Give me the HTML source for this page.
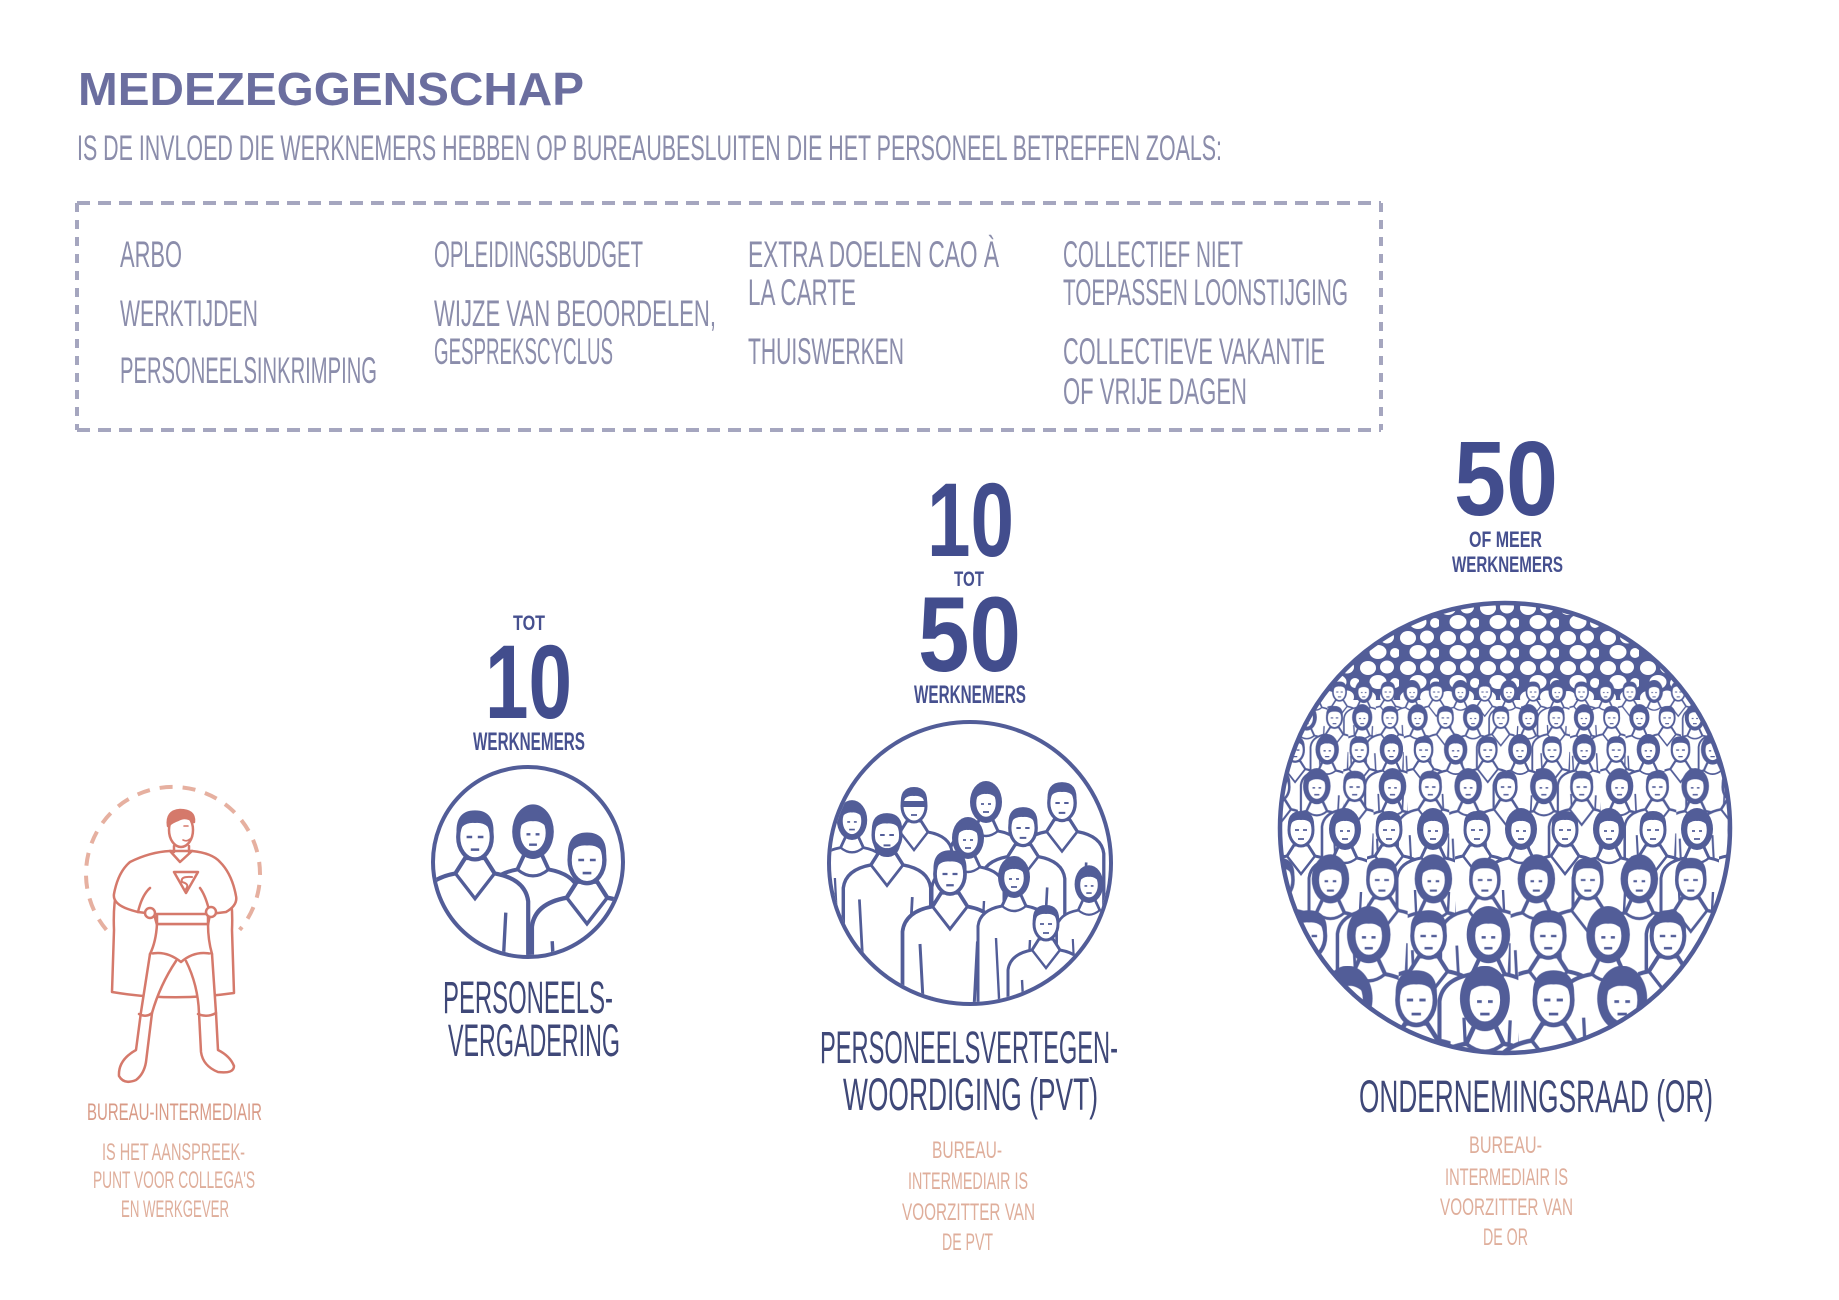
<!DOCTYPE html>
<html><head><meta charset="utf-8">
<style>
html,body{margin:0;padding:0;background:#fff}
svg{display:block}
text{font-family:"Liberation Sans",sans-serif}
</style></head>
<body>
<svg width="1839" height="1300" viewBox="0 0 1839 1300" xmlns="http://www.w3.org/2000/svg">
<defs>
  <g id="pm">
    <path d="M-38 240 L-38 46 Q-36 30 -14 26 L-7 15 L7 15 L14 26 Q36 30 38 46 L38 240 Z" fill="#fff" stroke="#525d98" stroke-width="3"/>
    <path d="M-14 26 L0 44 L14 26 M-24 56 L-20 130 M22 54 L18 130" fill="none" stroke="#525d98" stroke-width="2.4"/>
    <ellipse rx="12" ry="16" fill="#fff" stroke="#525d98" stroke-width="3"/>
    <path d="M-13 0 Q-15 -19 0 -19 Q15 -19 13 0 Q10 -11 0 -10 Q-10 -11 -13 0Z" fill="#525d98"/>
    <path d="M-6 0 h4 M2 0 h4 M-3 9 h6" stroke="#525d98" stroke-width="1.8" fill="none"/>
  </g>
  <g id="pw">
    <path d="M-36 240 L-36 48 Q-34 32 -12 28 L-6 15 L6 15 L12 28 Q34 32 36 48 L36 240 Z" fill="#fff" stroke="#525d98" stroke-width="3"/>
    <path d="M-12 28 Q0 38 12 28 M-18 60 L-14 140 M16 62 L12 140" fill="none" stroke="#525d98" stroke-width="2.4"/>
    <ellipse cx="0" cy="-1" rx="16" ry="21" fill="#525d98"/>
    <ellipse rx="11" ry="15" fill="#fff" stroke="#525d98" stroke-width="2.5"/>
    <path d="M-12 -3 Q-12 -17 0 -17 Q12 -17 12 -3 Q6 -10 0 -9 Q-6 -10 -12 -3Z" fill="#525d98"/>
    <path d="M-5 1 h3 M2 1 h3 M-3 9 h6" stroke="#525d98" stroke-width="1.8" fill="none"/>
  </g>
  <pattern id="pa" width="40" height="30" patternUnits="userSpaceOnUse" x="1279" y="600">
    <rect width="40" height="30" fill="#525d98"/>
    <ellipse cx="9" cy="8" rx="8" ry="7" fill="#fff"/>
    <ellipse cx="28" cy="7" rx="7" ry="6.5" fill="#fff"/>
    <ellipse cx="19" cy="22" rx="8.5" ry="7" fill="#fff"/>
    <ellipse cx="36" cy="23" rx="5" ry="5" fill="#fff"/>
  </pattern>
  <pattern id="r1" width="88" height="1000" patternUnits="userSpaceOnUse" patternTransform="translate(1279 679.9) scale(.55)"><use href="#pm" x="22" y="22"/><use href="#pw" x="66" y="22"/></pattern>
  <pattern id="r2" width="88" height="1000" patternUnits="userSpaceOnUse" patternTransform="translate(1292.9 704.1) scale(.63)"><use href="#pw" x="22" y="22"/><use href="#pm" x="66" y="22"/></pattern>
  <pattern id="r3" width="88" height="1000" patternUnits="userSpaceOnUse" patternTransform="translate(1279 734) scale(.73)"><use href="#pm" x="22" y="22"/><use href="#pw" x="66" y="22"/></pattern>
  <pattern id="r4" width="88" height="1000" patternUnits="userSpaceOnUse" patternTransform="translate(1297.9 768.1) scale(.86)"><use href="#pw" x="22" y="22"/><use href="#pm" x="66" y="22"/></pattern>
  <pattern id="r5" width="88" height="1000" patternUnits="userSpaceOnUse" patternTransform="translate(1279 808) scale(1)"><use href="#pm" x="22" y="22"/><use href="#pw" x="66" y="22"/></pattern>
  <pattern id="r6" width="88" height="1000" patternUnits="userSpaceOnUse" patternTransform="translate(1304.7 854.3) scale(1.17)"><use href="#pw" x="22" y="22"/><use href="#pm" x="66" y="22"/></pattern>
  <pattern id="r7" width="88" height="1000" patternUnits="userSpaceOnUse" patternTransform="translate(1279 906.1) scale(1.36)"><use href="#pm" x="22" y="22"/><use href="#pw" x="66" y="22"/></pattern>
  <pattern id="r8" width="88" height="1000" patternUnits="userSpaceOnUse" patternTransform="translate(1313.3 965.7) scale(1.56)"><use href="#pw" x="22" y="22"/><use href="#pm" x="66" y="22"/></pattern>
  <clipPath id="cb"><circle cx="1505" cy="828" r="224"/></clipPath>
  <clipPath id="cm"><circle cx="970" cy="863" r="139"/></clipPath>
  <clipPath id="cs"><circle cx="528" cy="862" r="93"/></clipPath>
</defs>

<!-- Title -->
<text x="78" y="105" font-size="46" font-weight="bold" fill="#6b6e9f" textLength="506" lengthAdjust="spacingAndGlyphs">MEDEZEGGENSCHAP</text>
<text x="77" y="160" font-size="35" fill="#8b8dab" textLength="1145" lengthAdjust="spacingAndGlyphs">IS DE INVLOED DIE WERKNEMERS HEBBEN OP BUREAUBESLUITEN DIE HET PERSONEEL BETREFFEN ZOALS:</text>

<!-- Dashed box -->
<g stroke="#a5a6bf" stroke-width="4" fill="none">
  <line x1="77" y1="203" x2="1381" y2="203" stroke-dasharray="13 8"/>
  <line x1="77" y1="430" x2="1381" y2="430" stroke-dasharray="13 8"/>
  <line x1="77" y1="203" x2="77" y2="430" stroke-dasharray="9 8"/>
  <line x1="1381" y1="203" x2="1381" y2="430" stroke-dasharray="9 8"/>
</g>

<!-- Box items -->
<g font-size="37" fill="#8b8dab">
  <text x="120" y="267" textLength="62" lengthAdjust="spacingAndGlyphs">ARBO</text>
  <text x="120" y="326" textLength="138" lengthAdjust="spacingAndGlyphs">WERKTIJDEN</text>
  <text x="120" y="383" textLength="257" lengthAdjust="spacingAndGlyphs">PERSONEELSINKRIMPING</text>
  <text x="434" y="267" textLength="209" lengthAdjust="spacingAndGlyphs">OPLEIDINGSBUDGET</text>
  <text x="434" y="326" textLength="282" lengthAdjust="spacingAndGlyphs">WIJZE VAN BEOORDELEN,</text>
  <text x="434" y="364" textLength="179" lengthAdjust="spacingAndGlyphs">GESPREKSCYCLUS</text>
  <text x="748" y="267" textLength="251" lengthAdjust="spacingAndGlyphs">EXTRA DOELEN CAO À</text>
  <text x="748" y="305" textLength="108" lengthAdjust="spacingAndGlyphs">LA CARTE</text>
  <text x="748" y="364" textLength="156" lengthAdjust="spacingAndGlyphs">THUISWERKEN</text>
  <text x="1063" y="267" textLength="180" lengthAdjust="spacingAndGlyphs">COLLECTIEF NIET</text>
  <text x="1063" y="305" textLength="285" lengthAdjust="spacingAndGlyphs">TOEPASSEN LOONSTIJGING</text>
  <text x="1063" y="364" textLength="262" lengthAdjust="spacingAndGlyphs">COLLECTIEVE VAKANTIE</text>
  <text x="1063" y="404" textLength="184" lengthAdjust="spacingAndGlyphs">OF VRIJE DAGEN</text>
</g>

<!-- Superman -->
<path d="M106.4 929.9 A87 87 0 1 1 239.6 929.9" fill="none" stroke="#e6b0a0" stroke-width="4" stroke-dasharray="13 10"/>
<g stroke="#d5796b" stroke-width="2.5" fill="#fff" stroke-linejoin="round" stroke-linecap="round">
  <path d="M128 864 Q112 884 114 930 L112 992 Q172 1002 234 993 L232 930 Q234 884 218 864 Z"/>
  <path d="M130 862 Q150 852 170 851 L192 851 Q212 853 220 862 Q232 874 236 896 Q238 905 226 912 L210 914 L208 925 L157 925 L154 914 L138 912 Q112 906 114 894 Q118 872 130 862 Z"/>
  <path d="M138 912 Q142 895 150 888 M210 914 Q206 896 200 888 M170 851 L180 862 L192 851" fill="none"/>
  <path d="M174 846 L174 852 M189 846 L189 852" fill="none"/>
  <ellipse cx="181" cy="830" rx="12" ry="17"/>
  <path d="M168 826 Q166 811 180 810 Q195 810 194 822 Q186 815 178 820 Q172 822 168 826Z" fill="#d5796b"/>
  <path d="M184 826 h4 M183 840 q4 2 7 -1" fill="none" stroke-width="1.6"/>
  <path d="M174 872 L198 872 L186 893 Z"/>
  <path d="M192 877 Q180 876 182 882 Q190 884 186 889" fill="none" stroke-width="2"/>
  <path d="M157 924 Q156 942 150 954 Q166 950 181 962 Q195 950 212 954 Q208 940 208 924 Z"/>
  <rect x="157" y="914" width="51" height="10"/>
  <circle cx="150" cy="913" r="5"/>
  <circle cx="211" cy="912" r="5"/>
  <path d="M150 954 L141 1012 L136 1050 Q118 1060 119 1076 Q124 1085 136 1080 Q144 1074 146 1062 L152 1013 Q160 985 176 961"/>
  <path d="M186 961 Q198 985 199 1013 L201 1052 Q203 1066 218 1072 Q234 1074 234 1066 Q230 1056 218 1050 L216 1013 Q214 985 212 954"/>
  <path d="M139 1014 Q146 1018 152 1013 M198 1014 Q207 1018 216 1013" fill="none"/>
</g>
<g font-size="24" fill="#dfae9b">
  <text x="87" y="1120" fill="#d99b87" textLength="175" lengthAdjust="spacingAndGlyphs">BUREAU-INTERMEDIAIR</text>
  <text x="102" y="1160" textLength="143" lengthAdjust="spacingAndGlyphs">IS HET AANSPREEK-</text>
  <text x="93" y="1188" textLength="162" lengthAdjust="spacingAndGlyphs">PUNT VOOR COLLEGA'S</text>
  <text x="121" y="1217" textLength="108" lengthAdjust="spacingAndGlyphs">EN WERKGEVER</text>
</g>

<!-- Small group -->
<g fill="#46508f" font-weight="bold">
  <text x="513" y="630" font-size="21" textLength="32" lengthAdjust="spacingAndGlyphs">TOT</text>
  <text x="485" y="718" font-size="105" fill="#424d8d" textLength="87" lengthAdjust="spacingAndGlyphs">10</text>
  <text x="473" y="750" font-size="25" textLength="112" lengthAdjust="spacingAndGlyphs">WERKNEMERS</text>
</g>
<g clip-path="url(#cs)">
  <use href="#pw" transform="translate(533 833) scale(1.3)"/>
  <use href="#pm" transform="translate(475 837) scale(1.4)"/>
  <use href="#pm" transform="translate(587 860) scale(1.45)"/>
</g>
<circle cx="528" cy="862" r="95" fill="none" stroke="#525d98" stroke-width="4"/>
<g font-size="45" fill="#3f4878">
  <text x="443" y="1013" textLength="170" lengthAdjust="spacingAndGlyphs">PERSONEELS-</text>
  <text x="448" y="1056" textLength="172" lengthAdjust="spacingAndGlyphs">VERGADERING</text>
</g>

<!-- Middle group -->
<g fill="#46508f" font-weight="bold">
  <text x="927" y="556" font-size="105" fill="#424d8d" textLength="87" lengthAdjust="spacingAndGlyphs">10</text>
  <text x="954" y="586" font-size="21" textLength="30" lengthAdjust="spacingAndGlyphs">TOT</text>
  <text x="918" y="671" font-size="107" fill="#424d8d" textLength="103" lengthAdjust="spacingAndGlyphs">50</text>
  <text x="914" y="703" font-size="25" textLength="112" lengthAdjust="spacingAndGlyphs">WERKNEMERS</text>
</g>
<g clip-path="url(#cm)">
  <use href="#pw" transform="translate(986 803)"/>
  <use href="#pm" transform="translate(1062 803) scale(1.1)"/>
  <use href="#pm" transform="translate(914 806)"/>
  <path d="M902 804 h24" stroke="#525d98" stroke-width="6"/>
  <use href="#pw" transform="translate(852 821) scale(.95)"/>
  <use href="#pm" transform="translate(1023 828) scale(1.1)"/>
  <use href="#pm" transform="translate(887 835) scale(1.15)"/>
  <path d="M873 837 Q873 857 887 857 Q901 857 901 837 Q894 849 887 848 Q880 849 873 837Z" fill="#525d98"/>
  <use href="#pw" transform="translate(968 839)"/>
  <use href="#pm" transform="translate(950 874) scale(1.25)"/>
  <use href="#pw" transform="translate(1014 878)"/>
  <use href="#pw" transform="translate(1089 885) scale(.9)"/>
  <use href="#pm" transform="translate(1046 924)"/>
</g>
<circle cx="970" cy="863" r="141" fill="none" stroke="#525d98" stroke-width="4"/>
<g font-size="45" fill="#3f4878">
  <text x="820" y="1063" textLength="298" lengthAdjust="spacingAndGlyphs">PERSONEELSVERTEGEN-</text>
  <text x="843" y="1110" textLength="255" lengthAdjust="spacingAndGlyphs">WOORDIGING (PVT)</text>
</g>
<g font-size="24" fill="#dfae9b">
  <text x="932" y="1158" textLength="70" lengthAdjust="spacingAndGlyphs">BUREAU-</text>
  <text x="908" y="1189" textLength="120" lengthAdjust="spacingAndGlyphs">INTERMEDIAIR IS</text>
  <text x="902" y="1220" textLength="133" lengthAdjust="spacingAndGlyphs">VOORZITTER VAN</text>
  <text x="942" y="1250" textLength="51" lengthAdjust="spacingAndGlyphs">DE PVT</text>
</g>

<!-- Right group -->
<g fill="#46508f" font-weight="bold">
  <text x="1454" y="515" font-size="106" fill="#424d8d" textLength="104" lengthAdjust="spacingAndGlyphs">50</text>
  <text x="1469" y="547" font-size="22" textLength="73" lengthAdjust="spacingAndGlyphs">OF MEER</text>
  <text x="1452" y="572" font-size="22" textLength="111" lengthAdjust="spacingAndGlyphs">WERKNEMERS</text>
</g>
<g clip-path="url(#cb)">
  <rect x="1279" y="600" width="452" height="100" fill="url(#pa)"/>
  <rect x="1279" y="680" width="452" height="380" fill="url(#r1)"/>
  <rect x="1279" y="704" width="452" height="356" fill="url(#r2)"/>
  <rect x="1279" y="734" width="452" height="326" fill="url(#r3)"/>
  <rect x="1279" y="768" width="452" height="292" fill="url(#r4)"/>
  <rect x="1279" y="808" width="452" height="252" fill="url(#r5)"/>
  <rect x="1279" y="854" width="452" height="206" fill="url(#r6)"/>
  <rect x="1279" y="906" width="452" height="154" fill="url(#r7)"/>
  <rect x="1279" y="966" width="452" height="94" fill="url(#r8)"/>
</g>
<circle cx="1505" cy="828" r="225" fill="none" stroke="#525d98" stroke-width="4.5"/>
<text x="1359" y="1112" font-size="45" fill="#3f4878" textLength="354" lengthAdjust="spacingAndGlyphs">ONDERNEMINGSRAAD (OR)</text>
<g font-size="24" fill="#dfae9b">
  <text x="1469" y="1153" textLength="73" lengthAdjust="spacingAndGlyphs">BUREAU-</text>
  <text x="1445" y="1185" textLength="123" lengthAdjust="spacingAndGlyphs">INTERMEDIAIR IS</text>
  <text x="1440" y="1215" textLength="133" lengthAdjust="spacingAndGlyphs">VOORZITTER VAN</text>
  <text x="1483" y="1245" textLength="45" lengthAdjust="spacingAndGlyphs">DE OR</text>
</g>
</svg>
</body></html>
